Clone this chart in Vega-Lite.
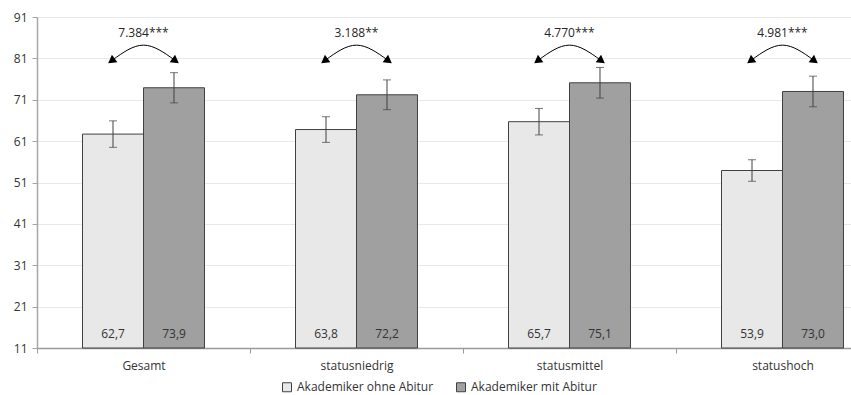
{
  "$schema": "https://vega.github.io/schema/vega-lite/v6.json",
  "width": 814,
  "height": 331,
  "autosize": {"type": "none"},
  "padding": {"left": 37, "top": 17, "right": 0, "bottom": 47},
  "config": {
    "view": {"stroke": null},
    "font": "Open Sans",
    "text": {"font": "Open Sans"}
  },
  "datasets": {
    "bars": [
      {"gruppe": "Gesamt", "serie": "Akademiker ohne Abitur", "wert": 62.7, "lo": 59.5, "hi": 65.9, "label": "62,7"},
      {"gruppe": "Gesamt", "serie": "Akademiker mit Abitur", "wert": 73.9, "lo": 70.25, "hi": 77.55, "label": "73,9"},
      {"gruppe": "statusniedrig", "serie": "Akademiker ohne Abitur", "wert": 63.8, "lo": 60.7, "hi": 66.9, "label": "63,8"},
      {"gruppe": "statusniedrig", "serie": "Akademiker mit Abitur", "wert": 72.2, "lo": 68.6, "hi": 75.8, "label": "72,2"},
      {"gruppe": "statusmittel", "serie": "Akademiker ohne Abitur", "wert": 65.7, "lo": 62.5, "hi": 68.9, "label": "65,7"},
      {"gruppe": "statusmittel", "serie": "Akademiker mit Abitur", "wert": 75.1, "lo": 71.4, "hi": 78.8, "label": "75,1"},
      {"gruppe": "statushoch", "serie": "Akademiker ohne Abitur", "wert": 53.9, "lo": 51.3, "hi": 56.5, "label": "53,9"},
      {"gruppe": "statushoch", "serie": "Akademiker mit Abitur", "wert": 73.0, "lo": 69.3, "hi": 76.7, "label": "73,0"}
    ],
    "arrows": [
      {"gruppe": "Gesamt", "pos": "L", "y": 80.6},
      {"gruppe": "Gesamt", "pos": "M", "y": 84.2},
      {"gruppe": "Gesamt", "pos": "R", "y": 80.6},
      {"gruppe": "statusniedrig", "pos": "L", "y": 80.6},
      {"gruppe": "statusniedrig", "pos": "M", "y": 84.2},
      {"gruppe": "statusniedrig", "pos": "R", "y": 80.6},
      {"gruppe": "statusmittel", "pos": "L", "y": 80.6},
      {"gruppe": "statusmittel", "pos": "M", "y": 84.2},
      {"gruppe": "statusmittel", "pos": "R", "y": 80.6},
      {"gruppe": "statushoch", "pos": "L", "y": 80.6},
      {"gruppe": "statushoch", "pos": "M", "y": 84.2},
      {"gruppe": "statushoch", "pos": "R", "y": 80.6}
    ],
    "sig": [
      {"gruppe": "Gesamt", "text": "7.384***", "y": 87.1},
      {"gruppe": "statusniedrig", "text": "3.188**", "y": 87.1},
      {"gruppe": "statusmittel", "text": "4.770***", "y": 87.1},
      {"gruppe": "statushoch", "text": "4.981***", "y": 87.1}
    ]
  },
  "encoding": {
    "x": {
      "field": "gruppe",
      "type": "nominal",
      "sort": ["Gesamt", "statusniedrig", "statusmittel", "statushoch"],
      "scale": {"range": [0, 852], "paddingInner": 0, "paddingOuter": 0},
      "axis": {
        "title": null,
        "tickBand": "extent",
        "domainColor": "#9a9a9a",
        "domainWidth": 1.5,
        "tickColor": "#9a9a9a",
        "tickSize": 5,
        "labelFontSize": 12,
        "labelColor": "#333333",
        "labelPadding": 7,
        "labelAngle": 0,
        "grid": false
      }
    }
  },
  "layer": [
    {
      "data": {"name": "bars"},
      "mark": {"type": "bar", "stroke": "#404040", "strokeWidth": 1},
      "encoding": {
        "xOffset": {"field": "serie", "type": "nominal", "sort": ["Akademiker ohne Abitur", "Akademiker mit Abitur"], "scale": {"domain": ["Akademiker ohne Abitur", "Akademiker mit Abitur"], "paddingInner": 0, "paddingOuter": 0.746}},
        "y": {
          "field": "wert",
          "type": "quantitative",
          "title": null,
          "scale": {"domain": [11, 91], "nice": false, "zero": false},
          "axis": {
            "title": null,
            "values": [11, 21, 31, 41, 51, 61, 71, 81, 91],
            "gridColor": "#e9e9e9",
            "domainColor": "#a6a6a6",
            "domainWidth": 1.5,
            "tickColor": "#a6a6a6",
            "tickSize": 5,
            "labelPadding": 5,
            "labelFontSize": 12,
            "labelColor": "#333333"
          }
        },
        "y2": {"datum": 11},
        "color": {
          "field": "serie",
          "type": "nominal",
          "scale": {"domain": ["Akademiker ohne Abitur", "Akademiker mit Abitur"], "range": ["#e8e8e8", "#a0a0a0"]},
          "legend": {
            "title": null,
            "orient": "none",
            "legendX": 244,
            "legendY": 364,
            "direction": "horizontal",
            "symbolType": "square",
            "symbolSize": 81,
            "symbolStrokeColor": "#404040",
            "symbolStrokeWidth": 1,
            "labelFontSize": 12,
            "labelColor": "#333333",
            "labelOffset": 4,
            "columnPadding": 20
          }
        }
      }
    },
    {
      "data": {"name": "bars"},
      "mark": {"type": "rule", "color": "#404040", "strokeWidth": 1},
      "encoding": {
        "xOffset": {"field": "serie", "type": "nominal", "scale": {"domain": ["Akademiker ohne Abitur", "Akademiker mit Abitur"], "paddingInner": 0, "paddingOuter": 0.746}},
        "y": {"field": "lo", "type": "quantitative", "title": null, "scale": {"domain": [11, 91], "nice": false, "zero": false}},
        "y2": {"field": "hi"}
      }
    },
    {
      "data": {"name": "bars"},
      "mark": {"type": "tick", "color": "#404040", "thickness": 1, "size": 8},
      "encoding": {
        "xOffset": {"field": "serie", "type": "nominal", "scale": {"domain": ["Akademiker ohne Abitur", "Akademiker mit Abitur"], "paddingInner": 0, "paddingOuter": 0.746}},
        "y": {"field": "hi", "type": "quantitative", "title": null, "scale": {"domain": [11, 91], "nice": false, "zero": false}}
      }
    },
    {
      "data": {"name": "bars"},
      "mark": {"type": "tick", "color": "#404040", "thickness": 1, "size": 8},
      "encoding": {
        "xOffset": {"field": "serie", "type": "nominal", "scale": {"domain": ["Akademiker ohne Abitur", "Akademiker mit Abitur"], "paddingInner": 0, "paddingOuter": 0.746}},
        "y": {"field": "lo", "type": "quantitative", "title": null, "scale": {"domain": [11, 91], "nice": false, "zero": false}}
      }
    },
    {
      "data": {"name": "bars"},
      "mark": {"type": "text", "fontSize": 12, "color": "#333333", "baseline": "alphabetic", "dy": -10},
      "encoding": {
        "xOffset": {"field": "serie", "type": "nominal", "scale": {"type": "point", "domain": ["_a", "Akademiker ohne Abitur", "Akademiker mit Abitur", "_b"], "padding": 0.246}},
        "y": {"datum": 11, "type": "quantitative", "title": null, "scale": {"domain": [11, 91], "nice": false, "zero": false}},
        "text": {"field": "label"}
      }
    },
    {
      "data": {"name": "arrows"},
      "mark": {"type": "line", "color": "#000000", "strokeWidth": 1, "interpolate": "natural"},
      "encoding": {
        "xOffset": {"field": "pos", "type": "nominal", "scale": {"type": "point", "domain": ["_1", "_2", "L", "M", "R", "_3", "_4"], "padding": 0.435}},
        "y": {"field": "y", "type": "quantitative", "title": null, "scale": {"domain": [11, 91], "nice": false, "zero": false}},
        "detail": {"field": "gruppe"}
      }
    },
    {
      "data": {"name": "arrows"},
      "transform": [{"filter": "datum.pos === 'L'"}],
      "mark": {"type": "point", "shape": "triangle", "filled": true, "color": "#000000", "opacity": 1, "size": 85, "angle": 234},
      "encoding": {
        "xOffset": {"field": "pos", "type": "nominal", "scale": {"type": "point", "domain": ["_1", "_2", "L", "M", "R", "_3", "_4"], "padding": 0.435}},
        "y": {"field": "y", "type": "quantitative", "title": null, "scale": {"domain": [11, 91], "nice": false, "zero": false}}
      }
    },
    {
      "data": {"name": "arrows"},
      "transform": [{"filter": "datum.pos === 'R'"}],
      "mark": {"type": "point", "shape": "triangle", "filled": true, "color": "#000000", "opacity": 1, "size": 85, "angle": 126},
      "encoding": {
        "xOffset": {"field": "pos", "type": "nominal", "scale": {"type": "point", "domain": ["_1", "_2", "L", "M", "R", "_3", "_4"], "padding": 0.435}},
        "y": {"field": "y", "type": "quantitative", "title": null, "scale": {"domain": [11, 91], "nice": false, "zero": false}}
      }
    },
    {
      "data": {"name": "sig"},
      "mark": {"type": "text", "fontSize": 12, "color": "#262626", "baseline": "middle"},
      "encoding": {
        "y": {"field": "y", "type": "quantitative", "title": null, "scale": {"domain": [11, 91], "nice": false, "zero": false}},
        "text": {"field": "text"}
      }
    }
  ],
  "resolve": {"scale": {"xOffset": "independent"}}
}
